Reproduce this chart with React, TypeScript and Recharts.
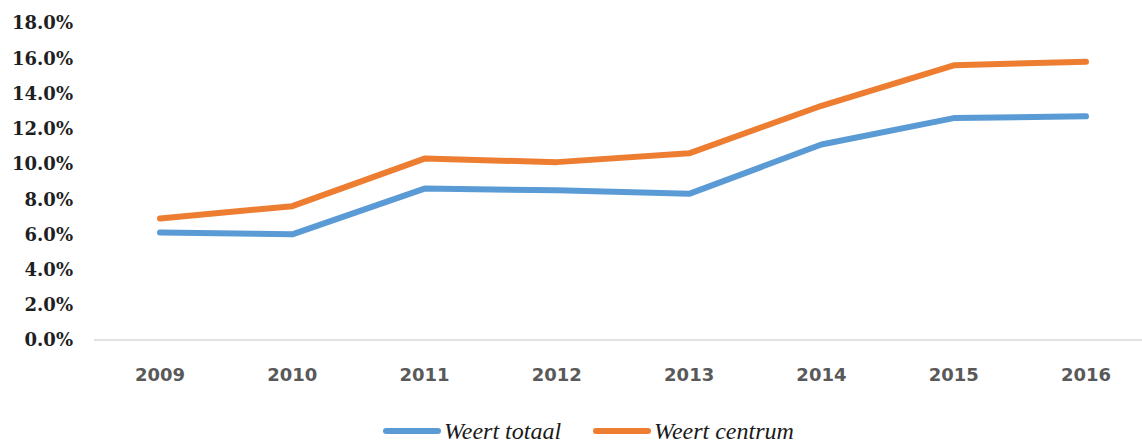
import React from 'react';
import { LineChart, Line, XAxis, YAxis, Legend } from 'recharts';

const years = ['2009', '2010', '2011', '2012', '2013', '2014', '2015', '2016'];
const weertTotaal = [6.1, 6.0, 8.6, 8.5, 8.3, 11.1, 12.6, 12.7];
const weertCentrum = [6.9, 7.6, 10.3, 10.1, 10.6, 13.3, 15.6, 15.8];
const yTicks = [0, 2, 4, 6, 8, 10, 12, 14, 16, 18];
const legendOrder = ['totaal', 'centrum'];

const data = years.map((year, i) => ({
  year,
  totaal: weertTotaal[i],
  centrum: weertCentrum[i],
}));

const LegendContent = (props: any) => {
  const payload = [...(props.payload || [])].sort(
    (a: any, b: any) => legendOrder.indexOf(a.dataKey) - legendOrder.indexOf(b.dataKey)
  );
  return (
    <div style={{ height: 33, display: 'flex', alignItems: 'center', paddingLeft: 383, boxSizing: 'border-box', paddingTop: 8 }}>
      {payload.map((p: any, i: number) => (
        <div key={i} style={{ display: 'flex', alignItems: 'center', marginRight: 32 }}>
          <span style={{ display: 'inline-block', width: 58, height: 6, borderRadius: 3, background: p.color }} />
          <span style={{ marginLeft: 3, fontFamily: '"Liberation Serif", serif', fontStyle: 'italic', fontSize: 24, color: '#1a1a1a', lineHeight: '26px' }}>
            {p.value}
          </span>
        </div>
      ))}
    </div>
  );
};

export default function App() {
  return (
    <div style={{ position: 'absolute', left: 0, top: 0, width: 1142, height: 443, overflow: 'hidden', background: '#fff' }}>
      <LineChart width={1152} height={443} data={data} margin={{ top: 23, right: 0, bottom: 0, left: 0 }}>
        <XAxis
          dataKey="year"
          height={70}
          padding={{ left: 66, right: 66 }}
          tickLine={false}
          tickSize={0}
          tickMargin={28}
          axisLine={{ stroke: '#d9d9d9', strokeWidth: 1.5 }}
          tick={{ fill: '#595959', fontSize: 18, fontWeight: 700, fontFamily: '"DejaVu Sans", sans-serif' }}
        />
        <YAxis
          width={94}
          domain={[0, 18]}
          ticks={yTicks}
          interval={0}
          axisLine={false}
          tickLine={false}
          tickSize={0}
          tickMargin={21}
          tickFormatter={(v: number) => `${v.toFixed(1)}%`}
          tick={{ fill: '#1f1f1f', fontSize: 18, fontWeight: 700, fontFamily: '"DejaVu Serif", serif' }}
        />
        <Legend
          verticalAlign="bottom"
          content={<LegendContent />}
          wrapperStyle={{ left: 0, width: 1142, bottom: 0, height: 33 }}
        />
        <Line
          type="linear"
          dataKey="totaal"
          name="Weert totaal"
          stroke="#5B9BD5"
          strokeWidth={6}
          strokeLinecap="round"
          strokeLinejoin="round"
          dot={false}
          activeDot={false}
          isAnimationActive={false}
        />
        <Line
          type="linear"
          dataKey="centrum"
          name="Weert centrum"
          stroke="#ED7D31"
          strokeWidth={6}
          strokeLinecap="round"
          strokeLinejoin="round"
          dot={false}
          activeDot={false}
          isAnimationActive={false}
        />
      </LineChart>
    </div>
  );
}
